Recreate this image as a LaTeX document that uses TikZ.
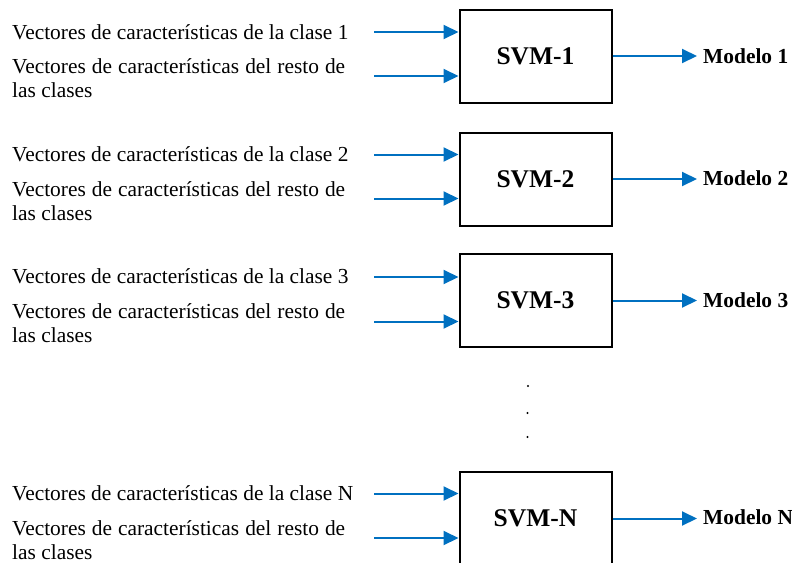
\documentclass[tikz,border=0pt]{standalone}
\usepackage{fontspec}
\setmainfont{Liberation Serif}
\usepackage{tikz}
\usetikzlibrary{arrows.meta}
\usepackage{xcolor}
\definecolor{flecha}{RGB}{0,112,192}

\begin{document}
\begin{tikzpicture}[x=1pt,y=-1pt,>={Triangle[length=15pt,width=14pt]},
  svm/.style={draw,line width=2pt,minimum width=152pt,minimum height=93pt,inner sep=0pt,font=\fontsize{25.5}{30}\selectfont\bfseries},
  vec/.style={anchor=base west,inner sep=0pt,font=\fontsize{21.4}{24}\selectfont},
  resto/.style={anchor=north west,inner sep=0pt,text width=333pt,align=justify,font=\fontsize{21.4}{24}\selectfont},
  modelo/.style={anchor=west,inner sep=0pt,font=\fontsize{21.4}{24}\selectfont\bfseries},
  flujo/.style={->,flecha,line width=2pt}]
\useasboundingbox (0,0) rectangle (792,562);
% bloque 1
\node[svm] (s1) at (535.5,56) {SVM-1};
\node[vec] (v1) at (12,39) {Vectores de características de la clase 1};
\node[resto] (r1) at (12,58.5) {Vectores de características del resto de las clases};
\node[modelo] (m1) at (703,56) {Modelo 1};
\coordinate (e1a) at (374,32);
\coordinate (e1b) at (374,76);
\draw[flujo] (e1a) -- (e1a -| s1.west);
\draw[flujo] (e1b) -- (e1b -| s1.west);
\draw[flujo,shorten >=6pt] (s1.east) -- (s1.east -| m1.west);
% bloque 2
\node[svm] (s2) at (535.5,179) {SVM-2};
\node[vec] (v2) at (12,161) {Vectores de características de la clase 2};
\node[resto] (r2) at (12,181) {Vectores de características del resto de las clases};
\node[modelo] (m2) at (703,178) {Modelo 2};
\coordinate (e2a) at (374,154.5);
\coordinate (e2b) at (374,198.5);
\draw[flujo] (e2a) -- (e2a -| s2.west);
\draw[flujo] (e2b) -- (e2b -| s2.west);
\draw[flujo,shorten >=6pt] (s2.east) -- (s2.east -| m2.west);
% bloque 3
\node[svm] (s3) at (535.5,300.5) {SVM-3};
\node[vec] (v3) at (12,283) {Vectores de características de la clase 3};
\node[resto] (r3) at (12,303) {Vectores de características del resto de las clases};
\node[modelo] (m3) at (703,300) {Modelo 3};
\coordinate (e3a) at (374,277);
\coordinate (e3b) at (374,321.5);
\draw[flujo] (e3a) -- (e3a -| s3.west);
\draw[flujo] (e3b) -- (e3b -| s3.west);
\draw[flujo,shorten >=6pt] (s3.east) -- (s3.east -| m3.west);
% puntos
\fill (528,386) circle (1.2pt);
\fill (527.5,413) circle (1.1pt);
\fill (527.5,437) circle (1.1pt);
% bloque N
\node[svm] (sN) at (535.5,518.5) {SVM-N};
\node[vec] (vN) at (12,500) {Vectores de características de la clase N};
\node[resto] (rN) at (12,520) {Vectores de características del resto de las clases};
\node[modelo] (mN) at (703,517) {Modelo N};
\coordinate (eNa) at (374,493.5);
\coordinate (eNb) at (374,538);
\draw[flujo] (eNa) -- (eNa -| sN.west);
\draw[flujo] (eNb) -- (eNb -| sN.west);
\draw[flujo,shorten >=6pt] (sN.east) -- (sN.east -| mN.west);
\end{tikzpicture}
\end{document}
